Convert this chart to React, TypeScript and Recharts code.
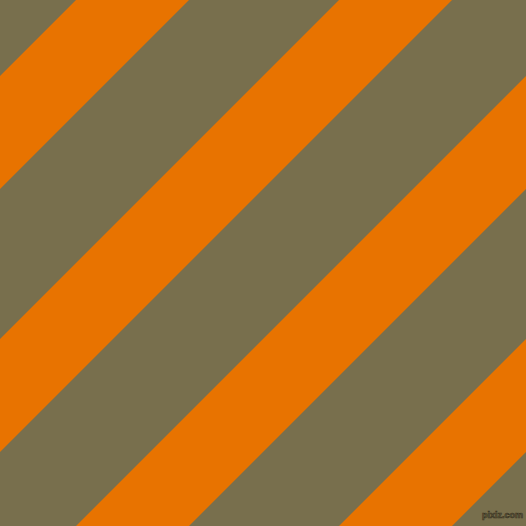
import { Area, ComposedChart, XAxis, YAxis } from "recharts";

const OLIVE = "#786F4D";
const ORANGE = "#E87300";

// x positions where each stripe edge is sampled (left and right border)
const xEdges = [0, 526];

// [top edge y, bottom edge y] of each orange stripe at x = 0 and x = 526
const stripe1 = [
  [76, 189],
  [-450, -337],
];
const stripe2 = [
  [339, 452],
  [-187, -74],
];
const stripe3 = [
  [602, 715],
  [76, 189],
];
const stripe4 = [
  [865, 978],
  [339, 452],
];

const stripeKeys = ["s1", "s2", "s3", "s4"];
const stripes = [stripe1, stripe2, stripe3, stripe4];

const data = xEdges.map((x, i) => {
  const row: Record<string, number | number[]> = { x };
  stripes.forEach((s, k) => {
    row[stripeKeys[k]] = s[i];
  });
  return row;
});

export default function App() {
  return (
    <div
      style={{
        position: "absolute",
        left: 0,
        top: 0,
        width: 526,
        height: 526,
        background: OLIVE,
      }}
    >
      <ComposedChart
        width={526}
        height={526}
        data={data}
        margin={{ top: 0, right: 0, left: 0, bottom: 0 }}
      >
        <XAxis dataKey="x" type="number" domain={[0, 526]} hide />
        <YAxis type="number" domain={[0, 526]} reversed allowDataOverflow hide />
        {stripeKeys.map((k) => (
          <Area
            key={k}
            type="linear"
            dataKey={k}
            stroke="none"
            fill={ORANGE}
            fillOpacity={1}
            isAnimationActive={false}
            dot={false}
            activeDot={false}
          />
        ))}
      </ComposedChart>
      <span
        style={{
          position: "absolute",
          left: 482,
          top: 510,
          lineHeight: "10px",
          fontFamily: "Liberation Sans",
          fontSize: 9,
          fontWeight: "bold",
          color: OLIVE,
          WebkitTextStroke: "0.7px #3b3523",
          whiteSpace: "nowrap",
        }}
      >
        pixiz.com
      </span>
    </div>
  );
}
